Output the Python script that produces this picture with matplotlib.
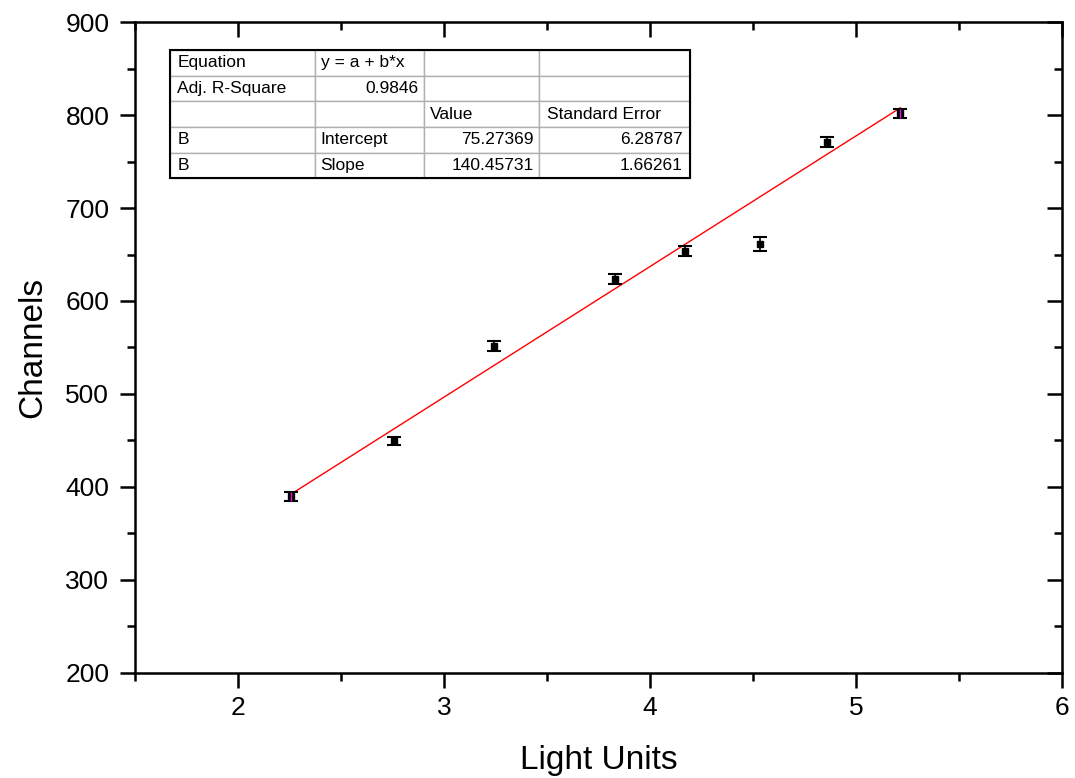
import numpy as np
import matplotlib
matplotlib.use('Agg')
import matplotlib.pyplot as plt
from matplotlib.patches import Rectangle
from matplotlib.ticker import MultipleLocator

plt.rcParams['font.family'] = ['Liberation Sans', 'DejaVu Sans']

light_units = [2.257, 2.756, 3.241, 3.828, 4.172, 4.536, 4.861, 5.215]
channels = [390.0, 449.5, 551.6, 623.7, 653.8, 661.3, 771.0, 802.0]
channel_err = [5.0, 4.5, 5.0, 5.4, 5.0, 7.5, 5.0, 5.0]
highlight = [0, 7]

intercept = 75.27369
slope = 140.45731

table_rows = [
  ['Equation', 'y = a + b*x', '', ''],
  ['Adj. R-Square', '0.9846', '', ''],
  ['', '', 'Value', 'Standard Error'],
  ['B', 'Intercept', '75.27369', '6.28787'],
  ['B', 'Slope', '140.45731', '1.66261'],
]
right_cells = [(1, 1), (3, 2), (3, 3), (4, 2), (4, 3)]

fig = plt.figure(figsize=(10.75, 7.78), dpi=100)
ax = fig.add_axes([0.1256, 0.135, 0.8624, 0.8367])

ax.errorbar(light_units, channels, yerr=channel_err, fmt='s', color='black',
  markersize=4.5, capsize=5, capthick=1.5, elinewidth=1.2, zorder=3)
hx = [light_units[i] for i in highlight]
hy = [channels[i] for i in highlight]
he = [channel_err[i] for i in highlight]
ax.errorbar(hx, hy, yerr=he, fmt='none', ecolor='#e010e0', elinewidth=1.0, zorder=4)

xfit = np.array([light_units[0], light_units[-1]])
ax.plot(xfit, intercept + slope * xfit, color='red', lw=1.0, zorder=2)

ax.set_xlim(1.5, 6)
ax.set_ylim(200, 900)
ax.xaxis.set_major_locator(MultipleLocator(1))
ax.xaxis.set_minor_locator(MultipleLocator(0.5))
ax.yaxis.set_major_locator(MultipleLocator(100))
ax.yaxis.set_minor_locator(MultipleLocator(50))
ax.tick_params(which='major', direction='out', length=10.5, width=1.8, labelsize=19)
ax.tick_params(axis='x', which='major', pad=6)
ax.tick_params(axis='y', which='major', pad=8)
ax.tick_params(which='minor', direction='out', length=5.5, width=1.8)
for s in ax.spines.values():
  s.set_linewidth(1.8)

top = ax.secondary_xaxis('top')
top.xaxis.set_major_locator(MultipleLocator(1))
top.xaxis.set_minor_locator(MultipleLocator(0.5))
top.tick_params(which='major', direction='in', length=10.5, width=1.8, labeltop=False)
top.tick_params(which='minor', direction='in', length=5.5, width=1.8)
right = ax.secondary_yaxis('right')
right.yaxis.set_major_locator(MultipleLocator(100))
right.yaxis.set_minor_locator(MultipleLocator(50))
right.tick_params(which='major', direction='in', length=10.5, width=1.8, labelright=False)
right.tick_params(which='minor', direction='in', length=5.5, width=1.8)

ax.set_xlabel('Light Units', fontsize=24, labelpad=18)
ax.set_ylabel('Channels', fontsize=24, labelpad=12)

tb_x, tb_y, tb_w, tb_h = 0.0378, 0.760, 0.561, 0.197
tbl = ax.table(cellText=table_rows, colWidths=[0.279, 0.2096, 0.221, 0.290],
  cellLoc='left', bbox=[tb_x, tb_y, tb_w, tb_h], zorder=5)
tbl.auto_set_font_size(False)
tbl.set_fontsize(12.5)
for (r, c), cell in tbl.get_celld().items():
  cell.set_edgecolor('#b0b0b0')
  cell.set_linewidth(1.0)
  cell.PAD = 0.05
  if (r, c) in right_cells:
    cell._loc = 'right'
    cell.get_text().set_horizontalalignment('right')
ax.add_patch(Rectangle((tb_x, tb_y), tb_w, tb_h, transform=ax.transAxes,
  fill=False, edgecolor='black', lw=1.5, zorder=6))

fig.savefig('out.png', dpi=100)
